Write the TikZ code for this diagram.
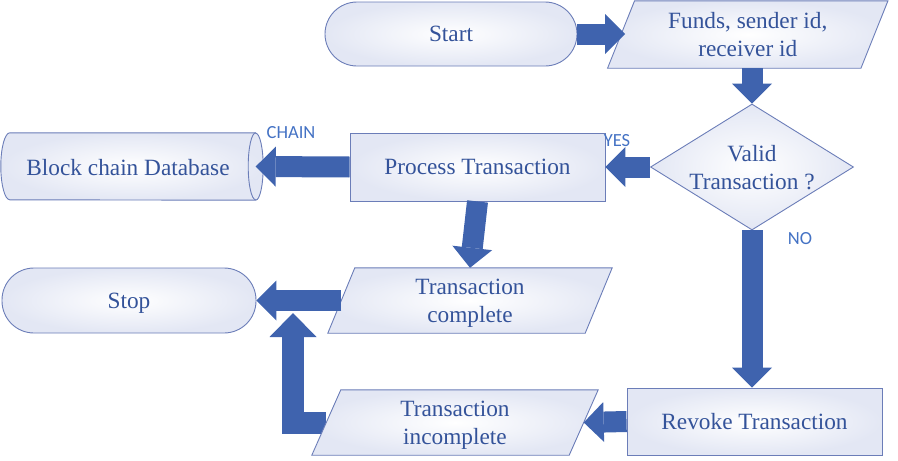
\documentclass[tikz,border=0pt]{standalone}
\usepackage{fontspec}
\setmainfont{Liberation Serif}
\newfontfamily\lblfont{Carlito}
\usetikzlibrary{shapes.geometric,arrows.meta}
\pgfdeclarelayer{background}
\pgfsetlayers{background,main}
\definecolor{arrowc}{HTML}{3F63AE}
\definecolor{edgec}{HTML}{6B7DB8}
\definecolor{textc}{HTML}{34539A}
\definecolor{lblc}{HTML}{4472C4}
\definecolor{fillc}{HTML}{E3E7F4}
\newcommand\paragram[2]{\path[outline,shapefill] ([xshift=#2]#1.north west) -- ([xshift=#2]#1.north east) -- ([xshift=-#2]#1.south east) -- ([xshift=-#2]#1.south west) -- cycle;}
\begin{document}
\begin{tikzpicture}[x=1pt,y=-1pt,
  shapefill/.style={shading=radial, inner color=white, outer color=fillc},
  outline/.style={draw=edgec, line width=0.9pt},
  txt/.style={text=textc, font=\fontsize{23.3}{28}\selectfont, align=center, inner sep=0pt, text depth=0pt},
  term/.style={outline, shapefill, txt, rounded corners=32pt, minimum height=64pt},
  procbox/.style={outline, shapefill, txt, minimum width=255pt, minimum height=68pt},
  iobox/.style={txt, minimum width=257pt, minimum height=65pt},
  decision/.style={diamond, outline, shapefill, inner sep=0pt, minimum width=203pt, minimum height=126pt},
  storebox/.style={txt, minimum width=245.5pt, minimum height=67pt},
  lbl/.style={text=lblc, font=\lblfont\fontsize{18.5}{20}\selectfont, inner sep=0pt},
  flow/.style={draw=arrowc, line width=21pt, -{Triangle[width=40pt,length=20pt,line width=0pt]}},
]
\useasboundingbox (0,0) rectangle (898,461);

% nodes
\node[term, minimum width=252pt] (start) at (451,34) {Start};
\node[iobox, minimum width=253pt, minimum height=67pt] (funds) at (747.75,34.5) {Funds, sender id,\\receiver id};
\node[decision] (valid) at (752,167) {};
\node[txt] (validtxt) at (752,167) {Valid\\Transaction ?};
\node[procbox] (process) at (477.5,167) {Process Transaction};
\node[storebox] (db) at (132.75,166.5) {};
\node[txt] (dbtxt) at (128,167) {Block chain Database};
\node[term, minimum width=254pt, minimum height=65pt] (stop) at (129,300.5) {Stop};
\node[iobox] (tc) at (470,300.5) {Transaction\\complete};
\node[iobox] (ti) at (455,422.5) {Transaction\\incomplete};
\node[procbox, minimum height=67pt] (revoke) at (754.5,421.5) {Revoke Transaction};
\coordinate (looptip) at (293,313);

% labels
\node[lbl] (yes) at (617,141) {YES};
\node[lbl] (chain) at (291,133) {CHAIN};
\node[lbl] (no) at (800,239) {NO};

\begin{pgfonlayer}{background}
\draw[flow, line width=22pt, line join=miter, -{Triangle[width=47pt,length=24pt,line width=0pt]}] (ti.west) -| (looptip);
\paragram{funds}{13.5pt}
\paragram{tc}{13.5pt}
\paragram{ti}{14.5pt}
% horizontal cylinder
\path[outline,shapefill] (db.north east) -- (db.north west)
  arc[start angle=90, end angle=270, x radius=9pt, y radius=33.5pt]
  -- (db.south east)
  arc[start angle=-90, end angle=90, x radius=7.5pt, y radius=33.5pt] -- cycle;
\draw[outline] (db.north east) arc[start angle=90, end angle=270, x radius=7.5pt, y radius=33.5pt];
\end{pgfonlayer}

% connectors
\draw[flow, shorten >=-4pt] (start.east) -- (start.east -| funds.west);
\draw[flow] (funds.south -| valid.north) -- (valid.north);
\draw[flow] (valid.west) -- (process.east);
\draw[flow] (process.west) -- (db.east);
\draw[flow] (process.south) -- (tc.north);
\draw[flow] (tc.west) -- (stop.east);
\draw[flow] (valid.south) -- (valid.south |- revoke.north);
\draw[flow] (revoke.west) -- (ti.east);
\end{tikzpicture}
\end{document}
